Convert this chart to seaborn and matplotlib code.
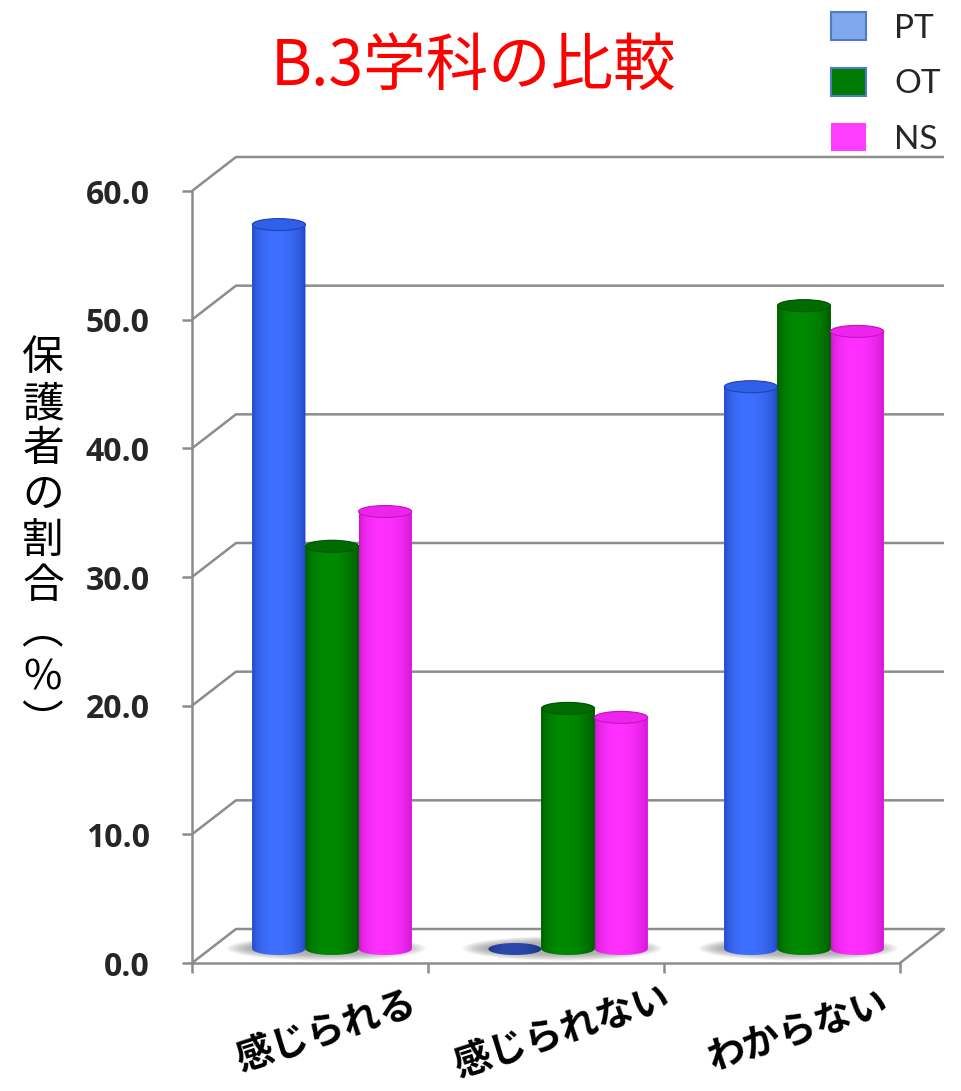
import numpy as np
import pandas as pd
import matplotlib
matplotlib.use("Agg")
import matplotlib.pyplot as plt
import seaborn as sns
from matplotlib.patches import Ellipse, PathPatch
from matplotlib.path import Path
from matplotlib.lines import Line2D

# ---- data ----
categories = ["感じられる", "感じられない", "わからない"]
groups = ["PT", "OT", "NS"]
pt_values = [56.3, 0.0, 43.7]
ot_values = [31.3, 18.7, 50.0]
ns_values = [34.0, 18.0, 48.0]
y_ticks = [0, 10, 20, 30, 40, 50, 60]
title_text = "B.3学科の比較"
y_label_chars = ["保", "護", "者", "の", "割", "合", "︵", "%", "︶"]

sns.set_theme(style="white")
plt.rcParams["font.family"] = ["Noto Sans CJK JP", "DejaVu Sans"]

df = pd.DataFrame({
    "category": categories * 3,
    "group": [g for g in groups for _ in categories],
    "value": pt_values + ot_values + ns_values,
})

# cylinder colours: (body centre, body edge, top cap)
body_colors = {
    "PT": ((62, 112, 255), (30, 66, 185), (48, 95, 232)),
    "OT": ((0, 138, 0), (0, 82, 0), (0, 108, 0)),
    "NS": ((255, 48, 255), (198, 18, 198), (236, 36, 236)),
}
zero_colors = ((44, 72, 170), (24, 44, 125), (34, 58, 150))
palette = {g: np.array(body_colors[g][0]) / 255 for g in groups}

W, H = 961, 1091
fig = plt.figure(figsize=(W / 100, H / 100), dpi=100)
ax = fig.add_axes([192 / W, 1 - 963 / H, 708 / W, 772 / H])

PX_X = 708 / 3.0
PX_Y = 772 / 60.0
DXB, DYB = 44 / PX_X, 34 / PX_Y      # depth of the back wall
DXM, DYM = 22 / PX_X, 14 / PX_Y      # depth of the bar row
ELL_H = 12 / PX_Y
GRID = "#8c8c8c"

sns.barplot(data=df, x="category", y="value", hue="group", order=categories,
            hue_order=groups, palette=palette, width=0.675, saturation=1,
            errorbar=None, edgecolor="none", linewidth=0, ax=ax, zorder=3)
ax.set_xlim(-0.5, 2.5)
ax.set_ylim(0, 60)


def gradient_rgb(center, edge, n=96):
    t = np.linspace(0, 1, n)
    g = np.sin(np.pi * t ** 0.85) ** 0.55
    c = np.array(center) / 255.0
    e = np.array(edge) / 255.0
    rgb = e[None, :] + (c - e)[None, :] * g[:, None]
    return np.repeat(rgb[None, :, :], 2, axis=0)


def silhouette(x0, x1, y0, y1, eh):
    xc, a, b = (x0 + x1) / 2, (x1 - x0) / 2, eh / 2
    t1 = np.linspace(np.pi, 2 * np.pi, 40)
    t2 = np.linspace(0, np.pi, 40)
    pts = [(x0, y1), (x0, y0)]
    pts += [(xc + a * np.cos(t), y0 + b * np.sin(t)) for t in t1]
    pts += [(x1, y1)]
    pts += [(xc + a * np.cos(t), y1 + b * np.sin(t)) for t in t2]
    pts.append(pts[0])
    codes = [Path.MOVETO] + [Path.LINETO] * (len(pts) - 2) + [Path.CLOSEPOLY]
    return Path(pts, codes)


# soft floor shadows beneath each group
for i in range(len(categories)):
    cx = i + DXM - 0.025
    for k in range(8):
        ax.add_patch(Ellipse((cx, DYM + 0.05), 0.84 - 0.025 * k, 1.9 - 0.13 * k,
                             facecolor="#6e6e6e", edgecolor="none",
                             alpha=0.085, zorder=2))

# turn the flat bars into shaded cylinders standing on the floor
for gi, (g, cont) in enumerate(zip(groups, ax.containers)):
    for rect in cont.patches:
        rect.set_x(rect.get_x() + DXM)
        rect.set_y(rect.get_y() + DYM)
        x0 = rect.get_x()
        x1 = x0 + rect.get_width()
        y0 = rect.get_y()
        h = rect.get_height()
        y1 = y0 + h
        cols = zero_colors if h <= 0 else body_colors[g]
        sil = PathPatch(silhouette(x0, x1, y0, y1, ELL_H), transform=ax.transData,
                        facecolor="none", edgecolor="none")
        im = ax.imshow(gradient_rgb(cols[0], cols[1]), extent=(x0, x1, y0 - ELL_H, y1 + ELL_H),
                       aspect="auto", interpolation="bilinear", zorder=4 + gi * 0.1)
        im.set_clip_path(sil)
        if h > 0:
            ax.add_patch(Ellipse(((x0 + x1) / 2, y1), x1 - x0, ELL_H,
                                 facecolor=np.array(cols[2]) / 255,
                                 edgecolor=np.array(cols[1]) / 255, linewidth=0.8,
                                 zorder=4.05 + gi * 0.1))
ax.set_xlim(-0.5, 2.5)
ax.set_ylim(0, 60)

# back wall gridlines and their diagonals to the front axis
for v in y_ticks:
    ax.add_line(Line2D([-0.5, -0.5 + DXB, 2.5 + DXB], [v, v + DYB, v + DYB],
                       color=GRID, lw=1.8, zorder=1, clip_on=False,
                       solid_capstyle="butt"))
ax.add_line(Line2D([2.5, 2.5 + DXB], [0, DYB], color=GRID, lw=1.8, zorder=1,
                   clip_on=False))

# axes styling
for side in ["top", "right"]:
    ax.spines[side].set_visible(False)
for side in ["left", "bottom"]:
    ax.spines[side].set_color(GRID)
    ax.spines[side].set_linewidth(1.8)
ax.grid(False)
ax.set_facecolor("none")
ax.set_xlabel("")
ax.set_ylabel("")

ax.set_yticks(y_ticks)
ax.set_yticklabels([f"{v:.1f}" for v in y_ticks])
ax.tick_params(axis="y", left=True, length=7.5, width=1.8, color=GRID, pad=23,
               labelsize=23)
for lab in ax.get_yticklabels():
    lab.set_fontfamily(["Open Sans", "DejaVu Sans"])
    lab.set_fontweight("bold")

ax.set_xticks([-0.5, 0.5, 1.5, 2.5], minor=True)
ax.set_xticks([0, 1, 2])
ax.set_xticklabels([])
ax.tick_params(axis="x", which="major", bottom=False, length=0)
ax.tick_params(axis="x", which="minor", bottom=True, length=7.5, width=1.8,
               color=GRID, direction="out")

xlab_tr = ax.get_xaxis_transform()
for i, lab in enumerate(categories):
    ax.text(i + 16 / PX_X, -68 / 772, lab, transform=xlab_tr, rotation=18,
            rotation_mode="anchor", ha="center", va="center", fontsize=27,
            fontweight="bold", color="black", clip_on=False)

# legend
leg_colors = [("#7fa8ee", "#4a7cc8"), ("#007a00", "#4a7cc8"), ("#ff3cff", "none")]
sns.move_legend(ax, "upper left", bbox_to_anchor=(831 / W, 1 - 12 / H),
                bbox_transform=fig.transFigure, frameon=False, title=None,
                prop={"family": ["Lato", "DejaVu Sans"], "size": 24},
                handlelength=1.05, handleheight=0.92, labelspacing=0.72,
                handletextpad=0.85, borderpad=0, borderaxespad=0)
leg = ax.get_legend()
for hnd, (fc, ec) in zip(leg.legend_handles, leg_colors):
    hnd.set_facecolor(fc)
    hnd.set_edgecolor(ec)
    hnd.set_linewidth(1.5)

# title and vertical axis caption
fig.text(474 / W, 1 - 67 / H, title_text, color="#ff0000", fontsize=45,
         ha="center", va="center")
for k, ch in enumerate(y_label_chars):
    fig.text(43 / W, 1 - (359 + 45.5 * k) / H, ch, fontsize=30, ha="center",
             va="center", color="black")

fig.savefig("out.png", dpi=100)
